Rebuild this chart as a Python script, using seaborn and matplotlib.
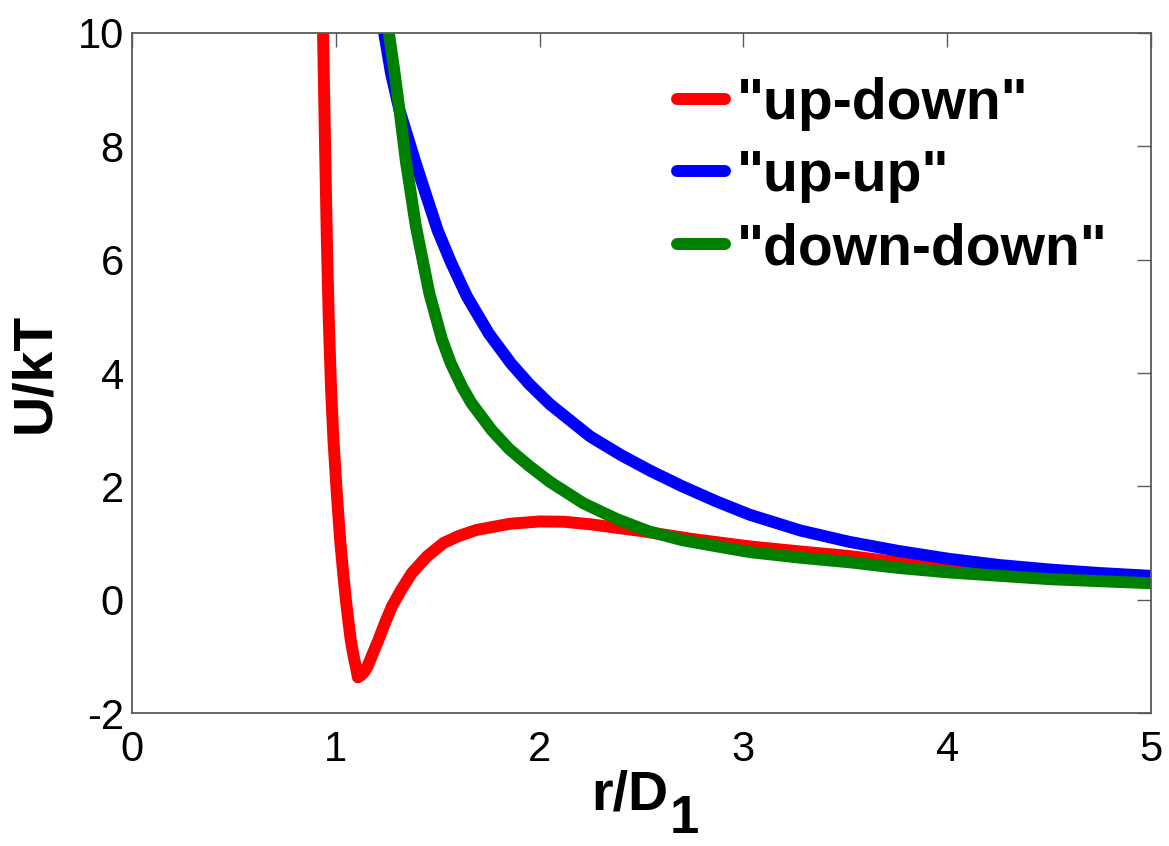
import matplotlib
matplotlib.use('Agg')
import matplotlib.pyplot as plt
import seaborn as sns

# --- data (r/D1 vs U/kT) ---
r_updown = [0.937, 0.947, 0.956, 0.965, 0.976, 0.988, 1.005, 1.021, 1.035, 1.049,
            1.061, 1.073, 1.086, 1.098, 1.108, 1.125, 1.140, 1.155, 1.180, 1.209,
            1.240, 1.275, 1.320, 1.373, 1.446, 1.528, 1.600, 1.690, 1.855, 2.000,
            2.120, 2.250, 2.500, 2.750, 3.030, 3.280, 3.520, 3.850, 4.200, 4.600,
            5.000]
u_updown = [10.0, 8.0, 6.3, 4.95, 3.75, 2.82, 1.85, 1.05, 0.50, 0.0,
            -0.37, -0.71, -0.98, -1.18, -1.37, -1.33, -1.27, -1.18, -0.96, -0.71,
            -0.42, -0.12, 0.17, 0.47, 0.76, 1.00, 1.12, 1.23, 1.34, 1.38,
            1.375, 1.33, 1.21, 1.07, 0.94, 0.85, 0.77, 0.62, 0.51, 0.41,
            0.34]

r_upup = [1.237, 1.270, 1.312, 1.392, 1.499, 1.565, 1.643, 1.750, 1.859, 1.950,
          2.050, 2.248, 2.400, 2.540, 2.700, 2.870, 3.030, 3.280, 3.520, 3.760,
          4.010, 4.260, 4.510, 4.750, 5.000]
u_upup = [10.0, 9.30, 8.64, 7.70, 6.52, 5.95, 5.35, 4.70, 4.17, 3.80,
          3.45, 2.88, 2.55, 2.28, 2.00, 1.73, 1.50, 1.22, 1.02, 0.86,
          0.72, 0.61, 0.53, 0.47, 0.42]

r_downdown = [1.260, 1.288, 1.312, 1.343, 1.392, 1.459, 1.520, 1.564, 1.620, 1.665,
              1.765, 1.850, 1.945, 2.050, 2.215, 2.380, 2.540, 2.700, 2.870, 3.030,
              3.280, 3.520, 3.760, 4.010, 4.510, 5.000]
u_downdown = [10.0, 9.30, 8.64, 7.75, 6.60, 5.40, 4.60, 4.17, 3.75, 3.47,
              2.99, 2.66, 2.37, 2.08, 1.70, 1.42, 1.20, 1.05, 0.94, 0.84,
              0.74, 0.66, 0.56, 0.48, 0.36, 0.29]

x_ticks = [0, 1, 2, 3, 4, 5]
y_ticks = [-2, 0, 2, 4, 6, 8, 10]

# --- style ---
sns.set_theme(style='white')
plt.rcParams['font.family'] = ['Liberation Sans', 'DejaVu Sans']
plt.rcParams['axes.unicode_minus'] = False
plt.rcParams['text.color'] = 'black'
plt.rcParams['axes.labelcolor'] = 'black'

fig, ax = plt.subplots(figsize=(11.69, 8.46), dpi=100)
fig.subplots_adjust(left=0.113, right=0.9846, bottom=0.1572, top=0.961)

lw = 8.6
sns.lineplot(x=r_updown, y=u_updown, color='#ff0000', lw=lw, sort=False,
             label='"up-down"', ax=ax)
sns.lineplot(x=r_upup, y=u_upup, color='#0000ff', lw=lw, sort=False,
             label='"up-up"', ax=ax)
sns.lineplot(x=r_downdown, y=u_downdown, color='#008000', lw=lw, sort=False,
             label='"down-down"', ax=ax)
for ln in ax.lines:
    ln.set_solid_joinstyle('round')

ax.set_xlim(0, 5)
ax.set_ylim(-2, 10)
ax.set_xticks(x_ticks)
ax.set_yticks(y_ticks)
ax.tick_params(direction='in', length=10, width=1, top=True, right=True,
               labelsize=30, color='0.35', labelcolor='black')
ax.tick_params(axis='x', pad=12)
ax.tick_params(axis='y', pad=6)
for sp in ax.spines.values():
    sp.set_color('0.35')
    sp.set_linewidth(1.3)

ax.set_ylabel('U/kT', fontsize=40, fontweight='bold', labelpad=12)
xl = ax.set_xlabel('r/D', fontsize=40, fontweight='bold', labelpad=0)
ax.xaxis.label.set_x(0.488)
# big subscript "1" like the original
ax.annotate('1', xy=(1, 0), xycoords=xl, xytext=(1.5, 2), textcoords='offset points',
            ha='left', va='center', fontsize=38, fontweight='bold')

ax.legend(loc='upper right', bbox_to_anchor=(0.957, 0.936), frameon=False,
          borderaxespad=0, borderpad=0, handlelength=0.85, handletextpad=0.2,
          labelspacing=0.33, prop={'family': 'Liberation Sans', 'weight': 'bold', 'size': 41})

plt.savefig('out.png', dpi=100)
